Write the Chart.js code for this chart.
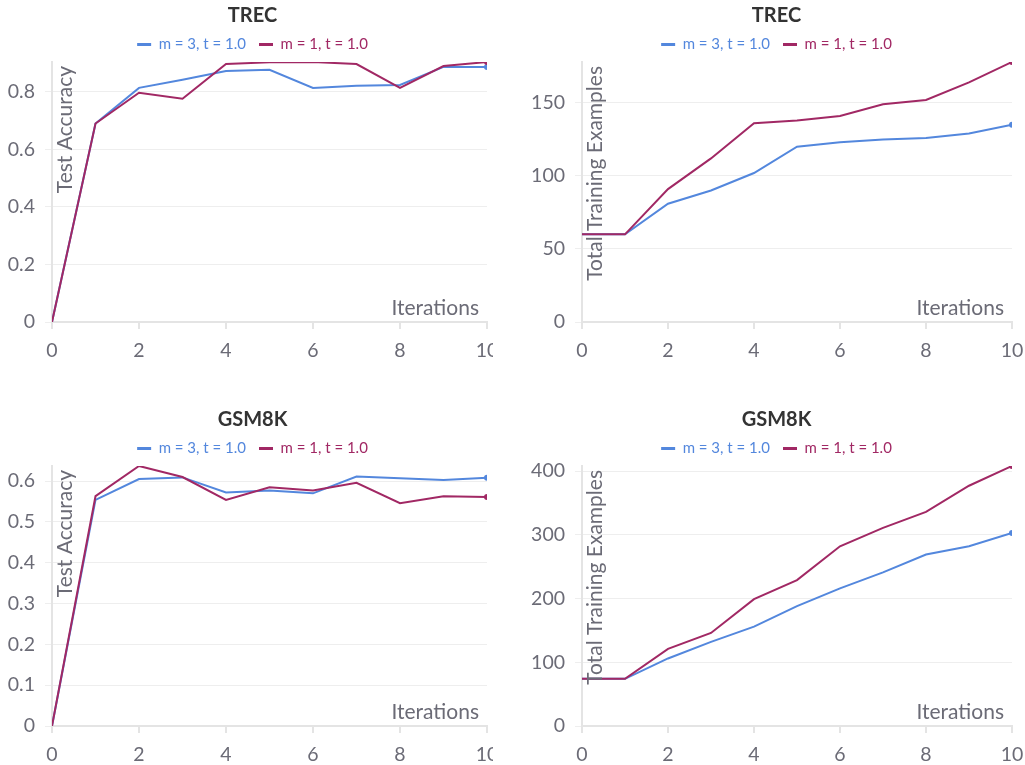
<!DOCTYPE html>
<html>
<head>
<meta charset="utf-8">
<script src="https://cdn.jsdelivr.net/npm/chart.js@4/dist/chart.umd.min.js"></script>
<style>
  html, body { margin: 0; padding: 0; background: #ffffff; }
  body { width: 1025px; height: 765px; position: relative; overflow: hidden; }
  .panel { position: absolute; overflow: hidden; }
  canvas { display: block; }
</style>
</head>
<body>
<div class="panel" id="p1" style="left:0px;top:0px;width:493px;height:362px;"><canvas id="c1" width="510" height="362"></canvas></div>
<div class="panel" id="p2" style="left:512px;top:0px;width:513px;height:362px;"><canvas id="c2" width="530" height="362"></canvas></div>
<div class="panel" id="p3" style="left:0px;top:404px;width:493px;height:361px;"><canvas id="c3" width="510" height="362"></canvas></div>
<div class="panel" id="p4" style="left:512px;top:404px;width:513px;height:361px;"><canvas id="c4" width="530" height="362"></canvas></div>
<script>
// ---- data ----
const iterations = [0, 1, 2, 3, 4, 5, 6, 7, 8, 9, 10];
const seriesNames = ['m = 3, t = 1.0', 'm = 1, t = 1.0'];
const trecAccM3 = [0, 0.69, 0.814, 0.842, 0.873, 0.877, 0.814, 0.821, 0.824, 0.887, 0.887];
const trecAccM1 = [0, 0.69, 0.797, 0.776, 0.897, 0.903, 0.904, 0.897, 0.814, 0.890, 0.904];
const trecExM3 = [60, 60, 81, 90, 102, 120, 123, 125, 126, 129, 135];
const trecExM1 = [60, 60, 91, 112, 136, 138, 141, 149, 152, 164, 178];
const gsmAccM3 = [0, 0.554, 0.605, 0.609, 0.572, 0.577, 0.570, 0.611, 0.607, 0.603, 0.608];
const gsmAccM1 = [0, 0.563, 0.637, 0.610, 0.554, 0.585, 0.577, 0.596, 0.546, 0.563, 0.561];
const gsmExM3 = [74, 74, 106, 132, 156, 188, 216, 241, 269, 282, 303];
const gsmExM1 = [74, 74, 121, 146, 199, 229, 282, 311, 336, 377, 408];
const xTicks = [0, 2, 4, 6, 8, 10];
const accTicksTrec = [0, 0.2, 0.4, 0.6, 0.8];
const exTicksTrec = [0, 50, 100, 150];
const accTicksGsm = [0, 0.1, 0.2, 0.3, 0.4, 0.5, 0.6];
const exTicksGsm = [0, 100, 200, 300, 400];

// ---- style ----
const FONT = 'Lato, "Noto Sans", sans-serif';
const BLUE = '#5387dd';
const RED = '#a12864';
const TICK_COLOR = '#6b6b76';
const colors = [BLUE, RED];

const overlayTitles = {
  id: 'overlayTitles',
  afterLayout(chart, args, opts) {
    const dx = opts.headerShift || 0;
    [chart.titleBlock, chart.legend].forEach((b) => {
      if (b) { b.left += dx; b.right += dx; }
    });
  },
  afterDatasetsDraw(chart, args, opts) {
    const ctx = chart.ctx;
    const a = chart.chartArea;
    ctx.save();
    ctx.fillStyle = TICK_COLOR;
    ctx.font = '21px ' + FONT;
    // x title inside bottom-right
    ctx.textAlign = 'right';
    ctx.textBaseline = 'alphabetic';
    ctx.fillText(opts.xTitle, a.right - 8, a.bottom - 7);
    // y title rotated inside top-left
    ctx.translate(a.left + 20, a.top + 4);
    ctx.rotate(-Math.PI / 2);
    ctx.textAlign = 'right';
    ctx.textBaseline = 'alphabetic';
    ctx.fillText(opts.yTitle, 0, 0);
    ctx.restore();
  }
};

function makeChart(id, title, s1, s2, yTickVals, yLabel, yWidth, padRight, headerShift) {
  const yMax = Math.max(...s1, ...s2);
  const datasets = [s1, s2].map((vals, k) => ({
    label: seriesNames[k],
    data: iterations.map((x, i) => ({ x: x, y: vals[i] })),
    borderColor: colors[k],
    backgroundColor: colors[k],
    borderWidth: 2,
    tension: 0,
    pointRadius: (c) => (c.dataIndex === vals.length - 1 ? 3 : 0),
    pointHoverRadius: 0,
    pointBorderWidth: 0,
  }));
  datasets[0].order = 2;
  datasets[1].order = 1;
  return new Chart(document.getElementById(id), {
    type: 'line',
    data: { datasets },
    options: {
      responsive: false,
      animation: false,
      events: [],
      layout: { padding: { left: 0, right: padRight, top: 0, bottom: 0 } },
      plugins: {
        title: {
          display: true,
          text: title,
          color: '#333333',
          font: { family: FONT, size: 20, weight: 'bold' },
          padding: { top: -1, bottom: -3.5 },
        },
        legend: {
          display: true,
          position: 'top',
          labels: {
            font: { family: FONT, size: 15 },
            boxWidth: 14,
            boxHeight: 3,
            padding: 13,
            generateLabels: (chart) => chart.data.datasets.map((d, i) => ({
              text: d.label,
              fillStyle: d.borderColor,
              strokeStyle: d.borderColor,
              lineWidth: 0,
              fontColor: d.borderColor,
              datasetIndex: i,
              hidden: false,
            })),
          },
        },
        tooltip: { enabled: false },
        overlayTitles: { xTitle: 'Iterations', yTitle: yLabel, headerShift: headerShift },
      },
      scales: {
        x: {
          type: 'linear',
          min: 0,
          max: 10,
          afterFit: (s) => { s.height = 40; },
          afterBuildTicks: (s) => { s.ticks = xTicks.map(v => ({ value: v })); },
          ticks: {
            color: TICK_COLOR,
            font: { family: FONT, size: 19.5 },
            padding: 10,
            maxRotation: 0,
            callback: (v) => String(v),
          },
          grid: {
            drawOnChartArea: false,
            drawTicks: true,
            tickLength: 7,
            color: '#e4e4e4',
            lineWidth: 2,
          },
          border: { display: true, color: '#e4e4e4', width: 2 },
        },
        y: {
          type: 'linear',
          min: 0,
          max: yMax,
          afterFit: (s) => { s.width = yWidth; s.paddingTop = 62; },
          afterBuildTicks: (s) => { s.ticks = yTickVals.map(v => ({ value: v })); },
          ticks: {
            color: TICK_COLOR,
            font: { family: FONT, size: 19.5 },
            padding: 10,
            callback: (v) => String(+v.toFixed(2)),
          },
          grid: {
            drawOnChartArea: true,
            drawTicks: true,
            tickLength: 7,
            color: '#eeeeee',
            lineWidth: 1,
          },
          border: { display: true, color: '#e4e4e4', width: 2 },
        },
      },
    },
    plugins: [overlayTitles],
  });
}

makeChart('c1', 'TREC', trecAccM3, trecAccM1, accTicksTrec, 'Test Accuracy', 52, 23, 9);
makeChart('c2', 'TREC', trecExM3, trecExM1, exTicksTrec, 'Total Training Examples', 70, 30, 14.5);
makeChart('c3', 'GSM8K', gsmAccM3, gsmAccM1, accTicksGsm, 'Test Accuracy', 52, 23, 9);
makeChart('c4', 'GSM8K', gsmExM3, gsmExM1, exTicksGsm, 'Total Training Examples', 70, 30, 14.5);
</script>
</body>
</html>
